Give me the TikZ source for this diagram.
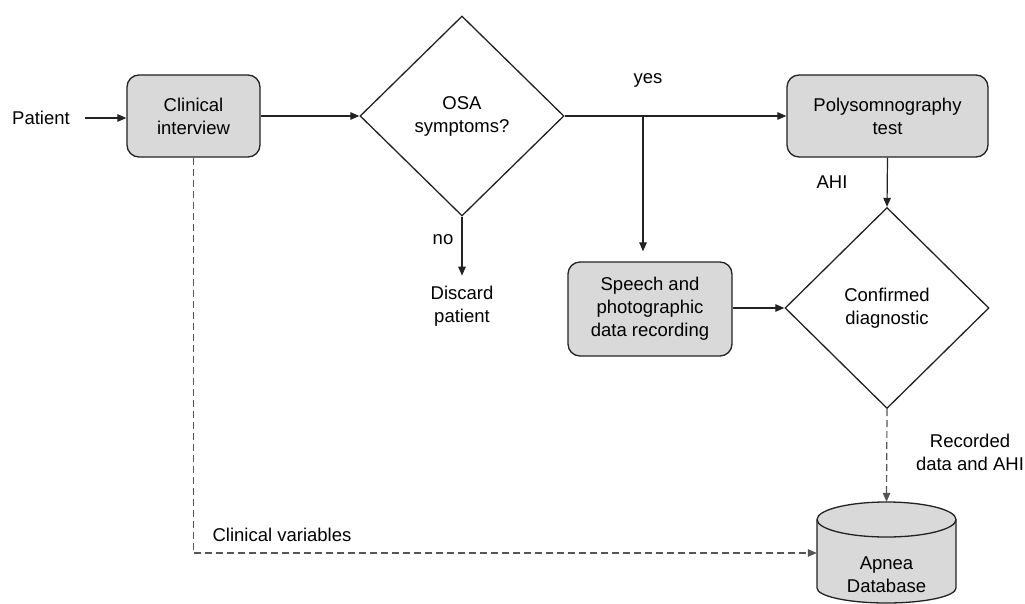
\documentclass[tikz,border=0pt]{standalone}
\usepackage{fontspec}
\setmainfont{Liberation Sans}
\usetikzlibrary{shapes.geometric,arrows.meta}
\definecolor{boxfill}{HTML}{D9D9D9}
\definecolor{linec}{HTML}{222222}
\definecolor{dashc}{HTML}{555555}
\tikzset{
  txt/.style={font=\fontsize{18.5}{23}\selectfont, align=center, text=black, inner sep=0pt},
  procbox/.style={txt, draw=linec, fill=boxfill, line width=1.3pt, rounded corners=12pt},
  decision/.style={txt, draw=linec, fill=white, diamond, line width=1.3pt, inner sep=0pt},
  arr/.style={draw=linec, line width=1.2pt, -{Triangle[length=9pt,width=7.5pt]}},
  dasharr/.style={draw=dashc, line width=1.2pt, dash pattern=on 7pt off 4pt, -{Triangle[length=9pt,width=7.5pt]}},
}
\begin{document}
\begin{tikzpicture}[x=1pt,y=-1pt]
\useasboundingbox (0,0) rectangle (1025,604);

\node[txt] (patient) at (41,118) {Patient};
\node[procbox, minimum width=133pt, minimum height=82pt] (ci) at (193.5,116) {Clinical\\interview};
\node[decision, minimum width=204pt, minimum height=200pt] (osa) at (462,116) {OSA\\symptoms?};
\node[txt] (no) at (443,240) {no};
\node[txt] (discard) at (462,306) {Discard\\patient};
\node[txt] (yes) at (648,80) {yes};
\node[procbox, minimum width=201pt, minimum height=82pt] (poly) at (887.5,116) {Polysomnography\\test};
\node[txt] (ahi) at (832,182) {AHI};
\node[procbox, minimum width=164pt, minimum height=94pt] (speech) at (650,309) {Speech and\\photographic\\data recording};
\node[decision, minimum width=204pt, minimum height=201pt] (conf) at (887,308) {Confirmed\\diagnostic};
\node[txt] (rec) at (970,452) {Recorded\\data and AHI};
\node[txt] (clinvar) at (282,535) {Clinical variables};

% database cylinder
\node[minimum width=139pt, minimum height=102pt, inner sep=0pt] (db) at (886.5,553) {};
\path[draw=linec, fill=boxfill, line width=1.3pt]
  (817,519.5) -- (817,588) arc[start angle=180, end angle=360, x radius=69.5pt, y radius=15pt]
  -- (956,519.5) arc[start angle=0, end angle=180, x radius=69.5pt, y radius=17.5pt] -- cycle;
\draw[linec, line width=1.3pt] (817,519.5) arc[start angle=180, end angle=360, x radius=69.5pt, y radius=17.5pt];
\node[txt] (dbtext) at (886.5,575) {Apnea\\Database};

\coordinate (branch) at (643,116);

\draw[arr, shorten <=15pt] (patient.east) -- (ci.west |- patient.east);
\draw[arr] (ci.east) -- (osa.west);
\draw[arr, shorten >=10pt] (osa.south) -- (discard.north);
\draw[arr] (osa.east) -- (poly.west);
\draw[arr, shorten >=10pt] (branch) -- (branch |- speech.north);
\draw[arr] (speech.east |- conf.west) -- (conf.west);
\draw[arr] (poly.south) -- (conf.north);
\draw[dasharr] (conf.south) -- (db.north);
\draw[dasharr] (ci.south) -- (ci.south |- db.west) -- (db.west);
\end{tikzpicture}
\end{document}
